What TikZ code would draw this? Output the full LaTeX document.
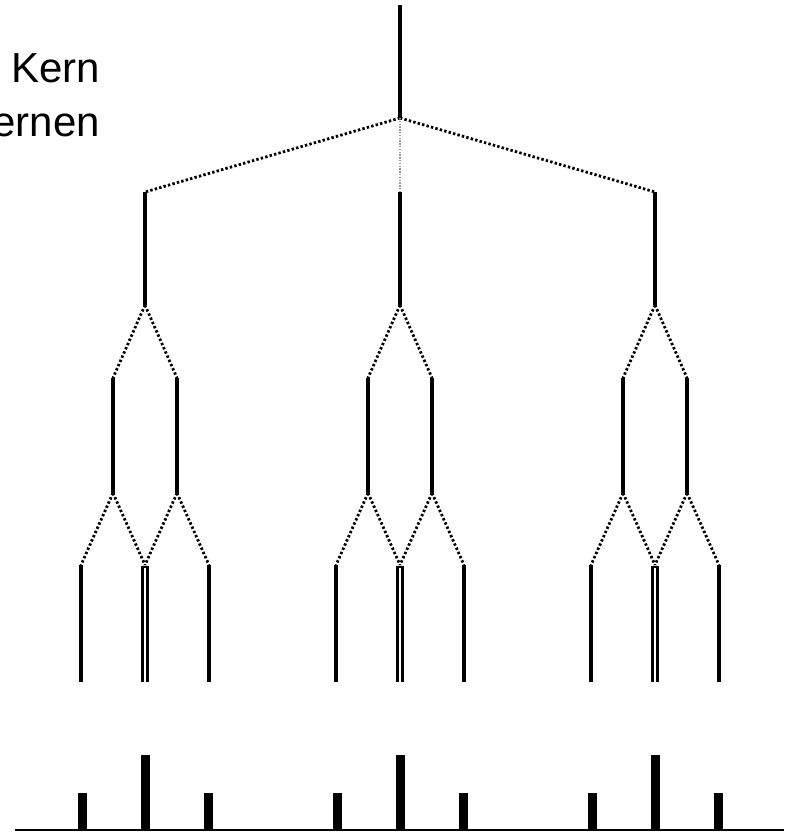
\documentclass[tikz,border=0pt]{standalone}
\usepackage{fontspec}
\setmainfont{Liberation Sans}
\begin{document}
\begin{tikzpicture}[x=1pt,y=-1pt,
  solidline/.style={line width=3.2pt,black},
  dotline/.style={line width=2.8pt,black,dash pattern=on 2.4pt off 2.2pt},
  faintdot/.style={line width=2.4pt,black!40,dash pattern=on 1.4pt off 1.4pt},
  bar/.style={line width=9pt,black},
  lbl/.style={font=\fontsize{42}{52}\selectfont,anchor=base east,inner sep=0pt}]
\useasboundingbox (0,0) rectangle (784,834);
\clip (0,0) rectangle (784,834);
% labels
\node[lbl] (t1) at (100,83) {Kern};
\node[lbl] (t2) at (100,137) {ernen};
% root
\coordinate (rt) at (400,5);
\coordinate (rb) at (400,118);
\draw[solidline] (rt) -- (rb);
\foreach \c/\n in {145/a,400/b,655/c}{
  \coordinate (\n T) at (\c,192);
  \coordinate (\n B) at (\c,305);
  \coordinate (\n L1) at (\c-32,378);
  \coordinate (\n L2) at (\c-32,493);
  \coordinate (\n R1) at (\c+32,378);
  \coordinate (\n R2) at (\c+32,493);
  \coordinate (\n A1) at (\c-64,565);
  \coordinate (\n A2) at (\c-64,682);
  \coordinate (\n M) at (\c,565);
  \coordinate (\n Ma1) at (\c-2.5,567);
  \coordinate (\n Ma2) at (\c-2.5,682);
  \coordinate (\n Mb1) at (\c+2.5,567);
  \coordinate (\n Mb2) at (\c+2.5,682);
  \coordinate (\n C1) at (\c+64,565);
  \coordinate (\n C2) at (\c+64,682);
  \draw[solidline] (\n T) -- (\n B);
  \draw[dotline] (\n B) -- (\n L1);
  \draw[dotline] (\n B) -- (\n R1);
  \draw[solidline] (\n L1) -- (\n L2);
  \draw[solidline] (\n R1) -- (\n R2);
  \draw[dotline] (\n L2) -- (\n A1);
  \draw[dotline] (\n L2) -- (\n M);
  \draw[dotline] (\n R2) -- (\n M);
  \draw[dotline] (\n R2) -- (\n C1);
  \draw[solidline] (\n A1) -- (\n A2);
  \draw[line width=2.4pt] (\n Ma2) -- (\n Ma1) -- (\n Mb1) -- (\n Mb2);
  \draw[solidline] (\n C1) -- (\n C2);
  % bars
  \coordinate (\n ba) at (\c-63,830);
  \coordinate (\n bat) at (\c-63,793);
  \coordinate (\n bm) at (\c,830);
  \coordinate (\n bmt) at (\c,755);
  \coordinate (\n bc) at (\c+63,830);
  \coordinate (\n bct) at (\c+63,793);
  \draw[bar] (\n ba) -- (\n bat);
  \draw[bar] (\n bm) -- (\n bmt);
  \draw[bar] (\n bc) -- (\n bct);
}
\draw[dotline] (rb) -- (aT);
\draw[dotline] (rb) -- (cT);
\draw[faintdot] (rb) -- (bT);
% baseline
\coordinate (bl) at (15,830);
\coordinate (br) at (784,830);
\draw[line width=2.6pt] (bl) -- (br);
\end{tikzpicture}
\end{document}
